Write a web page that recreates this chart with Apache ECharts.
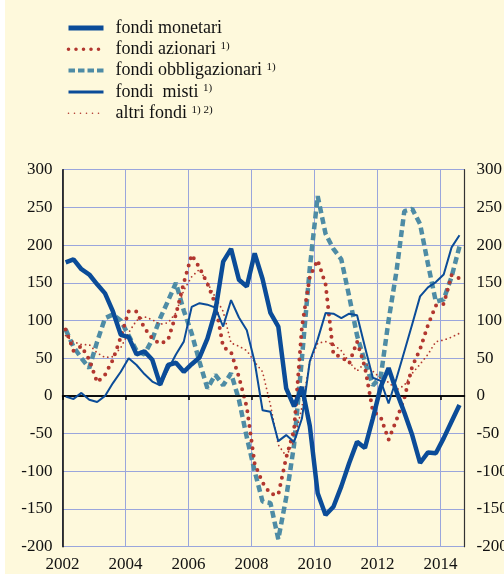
<!DOCTYPE html>
<html>
<head>
<meta charset="utf-8">
<title>Fondi comuni</title>
<script type="text/javascript" src="https://cdn.jsdelivr.net/npm/echarts@6/dist/echarts.min.js"></script>
<style>
  html, body { margin: 0; padding: 0; background: #fff; }
  #main { width: 504px; height: 574px; }
</style>
</head>
<body>
<div id="main"></div>
<script type="text/javascript">
// trimestri: posizione sull'asse (anno decimale)
var trimestri = [];
for (var i = 0; i < 51; i++) trimestri.push(2002.1 + i * 0.25);

var nomi = ['fondi monetari', 'fondi azionari', 'fondi obbligazionari', 'fondi  misti', 'altri fondi'];
var note = ['', '1)', '1)', '1)', '1) 2)'];

var monetari = [177, 181, 168, 161, 148, 136, 112, 81, 78, 55, 59, 48, 15,
  41, 44, 32, 42, 51, 76, 112, 178, 195, 154, 145, 189,
  155, 110, 92, 10, -14, 12, -40, -129, -158, -147, -120, -89, -61, -69, -30, 12, 37, 6, -22, -52, -89, -75, -76, -56, -34, -12];
var azionari = [88, 60, 66, 48, 18, 28, 48, 78, 112, 112, 90, 76, 69,
  74, 108, 150, 187, 170, 149, 122, 65, 58, 25, -15, -90,
  -115, -130, -131, -82, -45, 92, 158, 180, 148, 55, 52, 43, 72, 38, -20, -28, -58, -32, -3, 39, 62, 94, 120, 122, 160, 156];
var obbligazionari = [88, 65, 50, 37, 72, 103, 108, 100, 80, 60, 55, 75, 103,
  126, 150, 113, 83, 45, 10, 28, 14, 30, -5, -55, -100,
  -140, -142, -190, -135, -65, 50, 170, 265, 215, 195, 181, 132, 80, 45, 14, 25, 100, 165, 245, 248, 228, 175, 125, 128, 158, 198];
var misti = [-1, -4, 4, -5, -8, 0, 17, 32, 50, 41, 29, 19, 14,
  35, 55, 72, 118, 123, 121, 117, 92, 127, 104, 87, 45,
  -19, -21, -60, -52, -61, -30, 46, 75, 110, 109, 103, 109, 107, 65, 24, 20, -10, 23, 59, 95, 132, 144, 151, 161, 197, 213];
var altri = [80, 72, 68, 68, 57, 51, 52, 64, 84, 100, 105, 101, 95,
  97, 110, 140, 158, 168, 150, 131, 112, 70, 66, 60, 45,
  32, -12, -65, -80, -60, -15, 45, 70, 72, 68, 60, 45, 33, 44, 33, 23, 18, 8, 14, 30, 42, 55, 72, 74, 78, 83];

var anniTick = [2002, 2004, 2006, 2008, 2010, 2012, 2014];

function coppie(valori) {
  return valori.map(function (v, k) { return [trimestri[k], v]; });
}

var blu = '#0b4c98';
var rosso = '#b2372f';
var verde = '#4e8ca5';
var griglia = '#9aa6dc';
var font = '"Liberation Serif", "DejaVu Serif", serif';

// tratti delle serie, usati sia nel grafico sia nella legenda
var tratti = [
  { color: blu, width: 4.5, type: 'solid' },
  { color: rosso, width: 4, type: [0, 7.5], cap: 'round' },
  { color: verde, width: 4.5, type: [7, 4] },
  { color: blu, width: 2, type: 'solid' },
  { color: rosso, width: 1.8, type: [0, 4.5], cap: 'round' }
];
var trattiLegenda = [
  { color: blu, width: 5, type: 'solid' },
  { color: rosso, width: 3.6, type: [0, 7.5], cap: 'round' },
  { color: verde, width: 4, type: [6.5, 3] },
  { color: blu, width: 3, type: 'solid' },
  { color: rosso, width: 1.6, type: [0, 6], cap: 'round' }
];

var chart = echarts.init(document.getElementById('main'));

var option = {
  backgroundColor: '#ffffff',
  animation: false,
  graphic: [{
    type: 'rect', z: -10, silent: true,
    shape: { x: 5, y: 0, width: 499, height: 574 },
    style: { fill: '#fef9dc' }
  }],
  legend: {
    orient: 'vertical',
    left: 61,
    top: 14,
    itemWidth: 35,
    itemHeight: 18,
    itemGap: 3.3,
    data: nomi.map(function (n, k) {
      return { name: n, lineStyle: trattiLegenda[k], itemStyle: { opacity: 0 } };
    }),
    formatter: function (name) {
      var k = nomi.indexOf(name);
      return note[k] ? name + ' {s|' + note[k] + '}' : name;
    },
    textStyle: {
      fontFamily: font,
      fontSize: 18,
      lineHeight: 18,
      color: '#111',
      padding: [0, 0, 0, 7],
      rich: {
        s: { fontFamily: font, fontSize: 11, lineHeight: 10, verticalAlign: 'top', color: '#111' }
      }
    }
  },
  grid: { left: 62.5, right: 39.5, top: 169.7, bottom: 27.3, outerBoundsMode: 'none', containLabel: false },
  xAxis: {
    type: 'value',
    min: 2002,
    max: 2014.76,
    interval: 2,
    axisLine: { lineStyle: { color: '#000', width: 1.5 } },
    axisTick: { show: true, length: 4, lineStyle: { color: '#000', width: 1.5 } },
    axisLabel: {
      margin: 9,
      fontFamily: font, fontSize: 17, color: '#111',
      showMaxLabel: false,
      formatter: function (v) { return anniTick.indexOf(v) >= 0 ? String(v) : ''; }
    },
    splitLine: { show: true, lineStyle: { color: griglia, width: 1 } }
  },
  yAxis: [{
    type: 'value',
    min: -200, max: 300, interval: 50,
    axisLine: { show: true, lineStyle: { color: '#000', width: 1.5 } },
    axisTick: { show: false },
    axisLabel: { margin: 10, fontFamily: font, fontSize: 17, color: '#111' },
    splitLine: { show: true, lineStyle: { color: griglia, width: 1 } }
  }, {
    type: 'value',
    position: 'right',
    min: -200, max: 300, interval: 50,
    axisLine: { show: true, lineStyle: { color: '#333', width: 1.2 } },
    axisTick: { show: false },
    axisLabel: { margin: 12, fontFamily: font, fontSize: 17, color: '#111' },
    splitLine: { show: false }
  }],
  series: [{
    name: nomi[0], type: 'line', z: 6,
    symbol: 'none',
    data: coppie(monetari),
    lineStyle: tratti[0],
    itemStyle: { color: blu }
  }, {
    name: nomi[1], type: 'line', z: 4,
    symbol: 'none',
    data: coppie(azionari),
    lineStyle: tratti[1],
    itemStyle: { color: rosso }
  }, {
    name: nomi[2], type: 'line', z: 3,
    symbol: 'none',
    data: coppie(obbligazionari),
    lineStyle: tratti[2],
    itemStyle: { color: verde }
  }, {
    name: nomi[3], type: 'line', z: 5,
    symbol: 'none',
    data: coppie(misti),
    lineStyle: tratti[3],
    itemStyle: { color: blu },
    markLine: {
      silent: true, symbol: 'none', label: { show: false },
      lineStyle: { color: '#000', width: 1.6, type: 'solid' },
      data: [{ yAxis: 0 }]
    }
  }, {
    name: nomi[4], type: 'line', z: 4,
    symbol: 'none',
    data: coppie(altri),
    lineStyle: tratti[4],
    itemStyle: { color: rosso }
  }]
};

chart.setOption(option);
</script>
</body>
</html>
